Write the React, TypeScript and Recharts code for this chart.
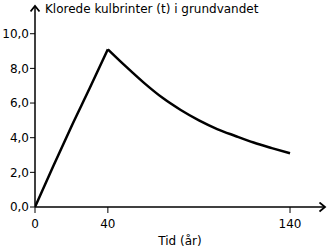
import { LineChart, Line, XAxis, YAxis } from 'recharts'

// stigning (0-40 år) og fald (40-140 år)
const riseYears = [0, 10, 20, 30, 40]
const riseAmounts = [0, 2.35, 4.65, 6.85, 9.1]
const fallYears = [40, 50, 60, 70, 80, 90, 100, 110, 120, 130, 140]
const fallAmounts = [9.1, 8.1, 7.15, 6.3, 5.6, 5.0, 4.5, 4.1, 3.72, 3.4, 3.1]

const xTicks = [0, 40, 140]
const yTicks = [0, 2, 4, 6, 8, 10]
const title = 'Klorede kulbrinter (t) i grundvandet'
const xLabel = 'Tid (år)'

const font = '"DejaVu Sans", sans-serif'

export default function App() {
  const rise = riseYears.map((t, i) => ({ t, v: riseAmounts[i] }))
  const fall = fallYears.map((t, i) => ({ t, v: fallAmounts[i] }))

  return (
    <div style={{ position: 'absolute', left: 0, top: 0, width: 330, height: 249, background: '#fff', fontFamily: font }}>
      <svg width={0} height={0} style={{ position: 'absolute' }}>
        <defs>
          <marker
            id="arrow"
            markerWidth={10}
            markerHeight={12}
            refX={6.5}
            refY={5}
            orient="auto-start-reverse"
            markerUnits="userSpaceOnUse"
          >
            <path d="M1,0.5 L6.5,5 L1,9.5" fill="none" stroke="#000" strokeWidth={1.8} />
          </marker>
        </defs>
      </svg>
      <div style={{ position: 'absolute', left: 45, top: 1, fontSize: 12, lineHeight: '16px', color: '#000', whiteSpace: 'nowrap' }}>
        {title}
      </div>
      <LineChart width={330} height={249} margin={{ top: 6, right: 5, bottom: 0, left: 0 }}>
        <XAxis
          type="number"
          dataKey="t"
          domain={[0, 159.2]}
          ticks={xTicks}
          height={42}
          tickSize={6}
          tickMargin={6}
          allowDataOverflow
          tick={{ fill: '#000', fontSize: 12, fontFamily: font }}
          tickLine={{ stroke: '#000', strokeWidth: 1 }}
          axisLine={{ stroke: '#000', strokeWidth: 1.5, markerEnd: 'url(#arrow)' }}
          label={{ value: xLabel, position: 'insideBottom', offset: 4, fill: '#000', fontSize: 12, fontFamily: font }}
        />
        <YAxis
          type="number"
          dataKey="v"
          domain={[0, 11.6]}
          ticks={yTicks}
          width={35}
          tickSize={5}
          tickMargin={1}
          allowDataOverflow
          tickFormatter={(v: number) => v.toFixed(1).replace('.', ',')}
          tick={{ fill: '#000', fontSize: 12, fontFamily: font }}
          tickLine={{ stroke: '#000', strokeWidth: 1 }}
          axisLine={{ stroke: '#000', strokeWidth: 1.5, markerStart: 'url(#arrow)' }}
        />
        <Line data={rise} dataKey="v" type="monotone" stroke="#000" strokeWidth={2.5} dot={false} isAnimationActive={false} />
        <Line data={fall} dataKey="v" type="monotone" stroke="#000" strokeWidth={2.5} dot={false} isAnimationActive={false} />
      </LineChart>
    </div>
  )
}
